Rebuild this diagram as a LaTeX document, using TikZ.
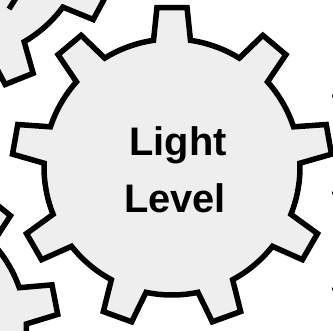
\documentclass[tikz,border=0pt]{standalone}
\usepackage{fontspec}
\setmainfont{Liberation Sans}
\usepackage{tikz}
\usepackage{xcolor}

\tikzset{gear/.style={draw=black,fill=gray!13,line width=4.7pt}}
% one gear: centre x, centre y, angle of a tooth
\newcommand{\gear}[3]{%
\begin{scope}[shift={(#1,#2)}]
\filldraw[gear] ({#3-8.3}:128) \foreach \a in {0,40,...,320} {
  -- ({#3+\a-8.3}:128) -- ({#3+\a-5.4}:160) -- ({#3+\a+5.4}:160) -- ({#3+\a+8.3}:128)
  arc[start angle={#3+\a+8.3}, end angle={#3+\a+31.7}, radius=128] } -- cycle;
\end{scope}}

\begin{document}
\begin{tikzpicture}[x=0.03cm,y=-0.03cm]
\useasboundingbox (0,0) rectangle (333,330);
\clip (0,0) rectangle (333,330);
\gear{-40}{-69}{28.2}
\draw[line width=4.7pt] (9,9) -- (16,-2);
\gear{-101.5}{330}{29}
\gear{172}{167}{30}
\node[anchor=base,font=\bfseries\fontsize{34}{40}\selectfont] (light) at (178,155) {Light};
\node[anchor=base,font=\bfseries\fontsize{34}{40}\selectfont] (level) at (175,212) {Level};
\foreach \y in {96,193,289} \fill (336,\y) circle[radius=4];
\end{tikzpicture}
\end{document}
